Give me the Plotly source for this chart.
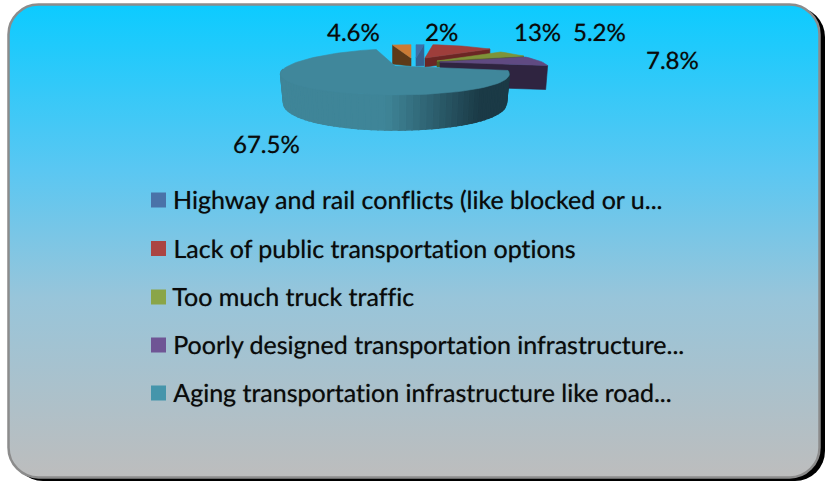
import base64
import math
import plotly.graph_objects as go

# ---- data ----
legend_labels = [
    "Highway and rail conflicts (like blocked or u...",
    "Lack of public transportation options",
    "Too much truck traffic",
    "Poorly designed transportation infrastructure...",
    "Aging transportation infrastructure like road...",
]
values = [2, 13, 5.2, 7.8, 67.5, 4.6]

# ---- styles / layout constants ----
W, H = 830, 481
FONT = "Lato"
SHADOW = "0 0 0.8px rgba(0,0,0,0.55)"
top_colors = ["#3f70a8", "#9e3e3b", "#7e9339", "#604a82", "#40879b", "#cb7b35"]
cut_colors = ["#35608f", "#6b2624", "#4e5b24", "#2f2440", "#40879b", "#5d3a19"]
legend_colors = ["#4a72a8", "#ab4543", "#8aa548", "#6f5595", "#4595ab"]
# apex x, apex y, rx, ry, depth at apex, depth at rim
geom = [
    (416, 58, 105, 18, 8, 21),
    (425, 58, 105, 18, 9, 9),
    (437, 61, 103, 18, 6, 6),
    (440, 62, 102, 18, 24, 24),
    (395, 66, 107, 23, 0, 0),
    (411, 58, 105, 18, 8, 19),
]
label_pos = [(441, 31), (537, 31), (599, 31), (672, 59), (266, 143), (353, 31)]
legend_y = [199, 247.5, 296, 344, 392]
swatch_y = [200, 248.5, 297, 345, 393]
draw_order = [5, 0, 1, 2, 3, 4]
TX, TY = 0.40, 0.26

bg_svg = f"""<svg xmlns="http://www.w3.org/2000/svg" width="{W}" height="{H}" viewBox="0 0 {W} {H}">
<defs><linearGradient id="g" x1="0" y1="0" x2="0" y2="1">
<stop offset="0" stop-color="#0ccbff"/><stop offset="0.35" stop-color="#5ac7f2"/>
<stop offset="0.62" stop-color="#98c5da"/><stop offset="1" stop-color="#bdbdbd"/></linearGradient></defs>
<rect x="13" y="7" width="812" height="474" rx="30" fill="#000"/>
<rect x="8.5" y="4.5" width="811" height="473" rx="30" fill="url(#g)" stroke="#8c8c8c" stroke-width="2.5"/>
</svg>"""
bg_uri = "data:image/svg+xml;base64," + base64.b64encode(bg_svg.encode()).decode()


def rim(a_deg, g):
    ax, ay, rx, ry, _, _ = g
    a = math.radians(a_deg)
    s, c = math.sin(a), math.cos(a)
    return ax + rx * s * (1 - TX * c), ay - ry * c * (1 - TY * c)


def poly(fig, pts, color, lw=0.6):
    fig.add_trace(go.Scatter(
        x=[p[0] for p in pts] + [pts[0][0]],
        y=[p[1] for p in pts] + [pts[0][1]],
        mode="lines", fill="toself", fillcolor=color,
        line=dict(color=color, width=lw),
        hoverinfo="skip", showlegend=False))


def mix(c1, c2, t):
    return "rgb(%d,%d,%d)" % tuple(round(a + (b - a) * t) for a, b in zip(c1, c2))


total = sum(values)
edges = [0]
for v in values:
    edges.append(edges[-1] + v / total * 360)

fig = go.Figure()

for i in draw_order:
    g = geom[i]
    a0, a1 = edges[i], edges[i + 1]
    ax, ay = g[0], g[1]
    n = max(4, int((a1 - a0) / 3))
    arc = [rim(a0 + (a1 - a0) * k / n, g) for k in range(n + 1)]
    if i == 4:
        # curved wall of the big slice, shaded in strips
        steps = 60
        wall_from, wall_to = a0, 262
        light, dark = (63, 133, 152), (27, 58, 70)
        for k in range(steps):
            b0 = wall_from + (wall_to - wall_from) * k / steps
            b1 = wall_from + (wall_to - wall_from) * (k + 1) / steps
            quad = []
            for b in (b0, b1):
                x, y = rim(b, g)
                d = 26 * (1 - 0.35 * math.cos(math.radians(b)))
                quad.append((x, y))
                quad.append((ax + (x - ax) * 0.975, y + d))
            mx = (quad[0][0] + quad[2][0]) / 2
            t = min(1, max(0, (mx - 385) / 95))
            poly(fig, [quad[0], quad[1], quad[3], quad[2]], mix(light, dark, t), lw=1.6)
    else:
        # flat cut face
        cut_a = a0 if i == 5 else a1
        ox, oy = rim(cut_a, g)
        poly(fig, [(ax, ay), (ox, oy), (ox - 2 * (i == 3), oy + g[5]), (ax, ay + g[4])], cut_colors[i])
    poly(fig, [(ax, ay)] + arc, top_colors[i])

# legend swatches
fig.add_trace(go.Scatter(
    x=[158.5] * len(legend_labels), y=swatch_y, mode="markers",
    marker=dict(symbol="square", size=15, color=legend_colors, line=dict(width=0)),
    hoverinfo="skip", showlegend=False))

annotations = []
for name, y in zip(legend_labels, legend_y):
    annotations.append(dict(x=171, y=y, text=name, xref="x", yref="y", xanchor="left",
                            yanchor="middle", showarrow=False,
                            font=dict(family=FONT, size=25, color="#0a0a0a", shadow=SHADOW)))
for v, (x, y) in zip(values, label_pos):
    annotations.append(dict(x=x, y=y, text=f"{v:g}%", xref="x", yref="y", xanchor="center",
                            yanchor="middle", showarrow=False,
                            font=dict(family=FONT, size=24, color="#0a0a0a", shadow=SHADOW)))

fig.update_layout(
    width=W, height=H,
    margin=dict(l=0, r=0, t=0, b=0),
    paper_bgcolor="white", plot_bgcolor="rgba(0,0,0,0)",
    showlegend=False,
    xaxis=dict(range=[0, W], visible=False, fixedrange=True),
    yaxis=dict(range=[H, 0], visible=False, fixedrange=True),
    annotations=annotations,
    images=[dict(source=bg_uri, xref="paper", yref="paper", x=0, y=1, sizex=1, sizey=1,
                 xanchor="left", yanchor="top", sizing="stretch", layer="below")],
)
fig.write_html(
    "out.html",
    config=dict(displayModeBar=False),
    post_script="document.body.style.margin='0';document.body.style.overflow='hidden';"
                "var s=document.createElement('style');"
                "s.textContent='text{font-variant-ligatures:none !important;"
                "font-feature-settings:\"liga\" 0,\"clig\" 0 !important;"
                "text-rendering:geometricPrecision !important}';"
                "document.head.appendChild(s);",
)
